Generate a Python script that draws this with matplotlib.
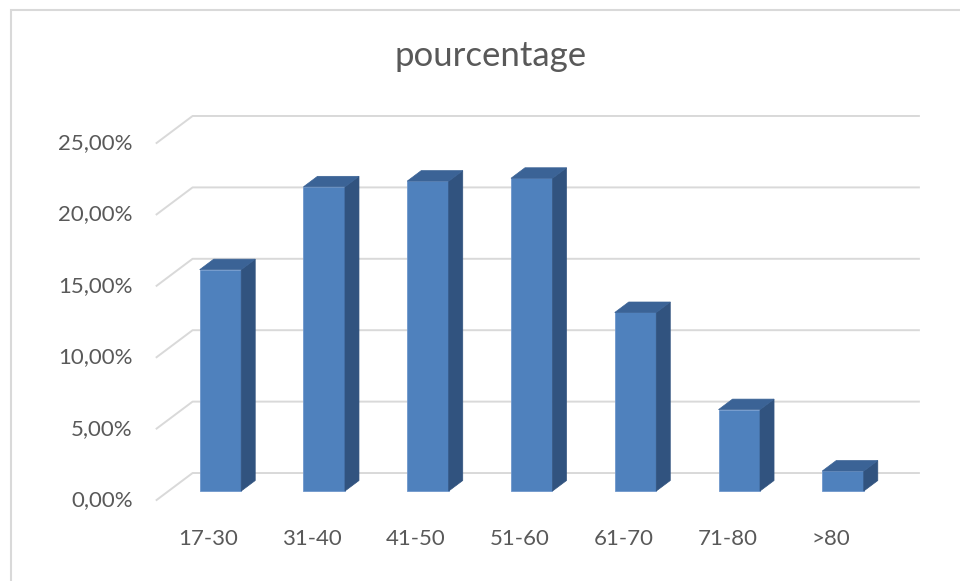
import matplotlib.pyplot as plt
from matplotlib.patches import Polygon, Rectangle

# tranches d'age et part de chaque tranche (en %)
categories = ['17-30', '31-40', '41-50', '51-60', '61-70', '71-80', '>80']
pourcentage = [15.5, 21.3, 21.7, 21.9, 12.5, 5.7, 1.4]
yticks = [0, 5, 10, 15, 20, 25]

front = '#4f81bd'
side = '#31537f'
top = '#3b6396'
grid = '#d9d9d9'
txt = '#595959'

plt.rcParams['font.family'] = ['Lato', 'DejaVu Sans']

fig = plt.figure(figsize=(9.6, 5.81), dpi=100)
fig.patches.append(Rectangle((11 / 960, -0.01), 1.0, 1.0 - 10 / 581 + 0.01,
                             transform=fig.transFigure, fill=False,
                             edgecolor=grid, lw=1.5))

ax = fig.add_axes([0.1631, 0.1394, 0.7566, 0.6145])
ax.set_xlim(-0.5, 6.5)
ax.set_ylim(0, 25)
ax.axis('off')

# profondeur du mur du fond (en unites de donnees)
wx, wy = 0.347, 1.89
# position de la face avant des barres et epaisseur du cube
fx, fy = wx / 3, wy / 3
sx, sy = 0.135, 0.735

# quadrillage sur le mur du fond + diagonales du plancher gauche
for v in yticks:
    ax.plot([-0.5, -0.5 + wx, 6.5 + wx], [v, v + wy, v + wy],
            color=grid, lw=1.4, clip_on=False, zorder=1)
    ax.text(-0.73, v, f'{v:.2f}%'.replace('.', ','), ha='right', va='center',
            fontsize=16, color=txt)

w = 0.4
for i, (cat, val) in enumerate(zip(categories, pourcentage)):
    x0 = i - w / 2 + fx
    x1 = i + w / 2 + fx
    y0 = fy
    y1 = val + fy
    ax.bar(i + fx, val, width=w, bottom=fy, color=front,
           edgecolor='#6f97cc', lw=0.6, zorder=3, clip_on=False)
    ax.add_patch(Polygon([(x1, y0), (x1 + sx, y0 + sy), (x1 + sx, y1 + sy), (x1, y1)],
                         closed=True, facecolor=side, edgecolor=side, lw=0.5,
                         zorder=3, clip_on=False))
    ax.add_patch(Polygon([(x0, y1), (x0 + sx, y1 + sy), (x1 + sx, y1 + sy), (x1, y1)],
                         closed=True, facecolor=top, edgecolor=top, lw=0.5,
                         zorder=3, clip_on=False))
    ax.text(i, -2.75, cat, ha='center', va='center', fontsize=16, color=txt)

fig.text(491 / 960, 1 - 56 / 581, 'pourcentage', ha='center', va='center',
         fontsize=25, color=txt)

fig.savefig('out.png', dpi=100)
